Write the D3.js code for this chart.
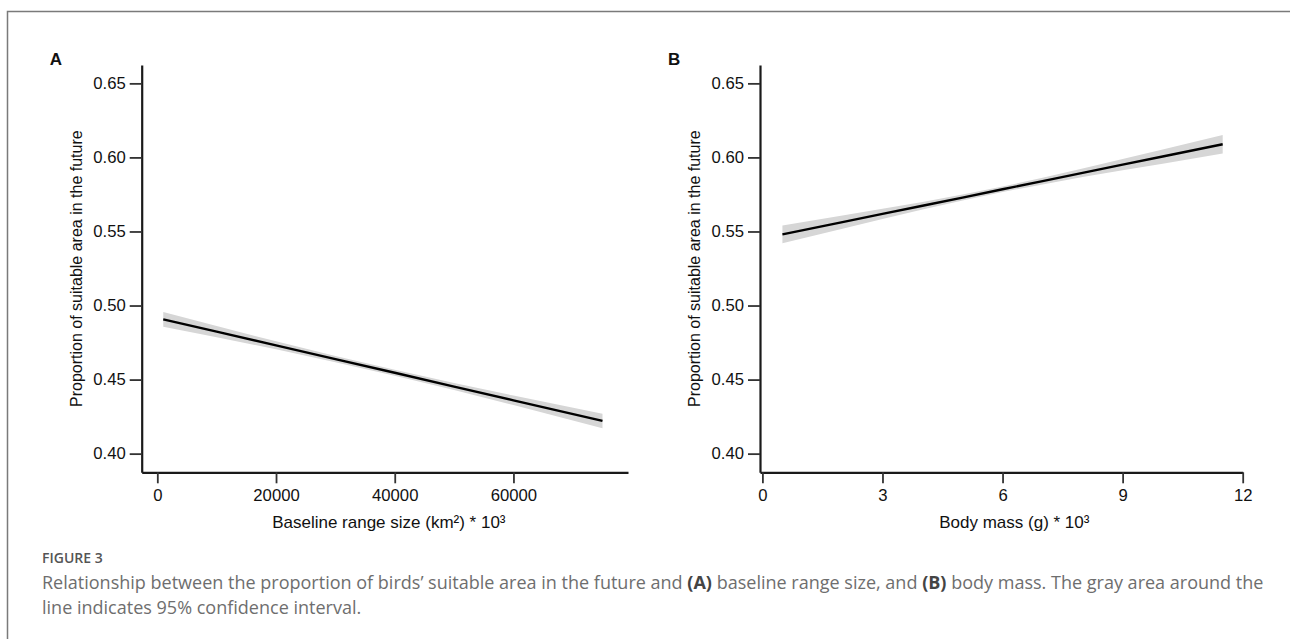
<!DOCTYPE html>
<html>
<head>
<meta charset="utf-8">
<script src="https://cdnjs.cloudflare.com/ajax/libs/d3/7.8.5/d3.min.js"></script>
<style>
    body { margin: 0; background: #fff; }
    svg { display: block; }
    .tick text { font-family: "Liberation Sans", Arial, sans-serif; font-size: 16.7px; fill: #111; }
    .axis-title { font-family: "Liberation Sans", Arial, sans-serif; font-size: 16px; fill: #111; }
    .panel-label { font-family: "Liberation Sans", Arial, sans-serif; font-size: 17px; font-weight: bold; fill: #111; }
    .caption { font-family: "Open Sans", sans-serif; fill: #6e6e6e; }
</style>
</head>
<body>
<div id="chart"></div>
<script>
// panel A: baseline range size (km2 * 10^3)
var rangeX = [1000, 10000, 20000, 30000, 40000, 50000, 60000, 75000];
var rangeFit = [0.4907, 0.4824, 0.4731, 0.4638, 0.4546, 0.4453, 0.4360, 0.4221];
var rangeLow = [0.4857, 0.4786, 0.4704, 0.4617, 0.4526, 0.4429, 0.4328, 0.4172];
var rangeHigh = [0.4957, 0.4862, 0.4758, 0.4659, 0.4566, 0.4477, 0.4392, 0.4270];
var rangeTicks = [0, 20000, 40000, 60000];

// panel B: body mass (g * 10^3)
var massX = [0.5, 2, 3, 4, 5, 6, 7, 8, 9, 10, 11.5];
var massFit = [0.5480, 0.5563, 0.5619, 0.5674, 0.5729, 0.5785, 0.5840, 0.5896, 0.5951, 0.6006, 0.6089];
var massLow = [0.5420, 0.5518, 0.5585, 0.5649, 0.5709, 0.5766, 0.5818, 0.5867, 0.5913, 0.5958, 0.6027];
var massHigh = [0.5540, 0.5608, 0.5653, 0.5699, 0.5749, 0.5804, 0.5862, 0.5925, 0.5989, 0.6054, 0.6151];
var massTicks = [0, 3, 6, 9, 12];

var yTicks = [0.40, 0.45, 0.50, 0.55, 0.60, 0.65];
var yTitle = "Proportion of suitable area in the future";

var width = 1290, height = 639;

var svg = d3.select("#chart")
    .append("svg")
    .attr("width", width)
    .attr("height", height);

// frame of the figure box
svg.append("path")
    .attr("d", "M7.5,639 L7.5,11.5 L1290,11.5")
    .attr("fill", "none")
    .attr("stroke", "#7a7a7a")
    .attr("stroke-width", 1.5);

var y = d3.scaleLinear()
    .domain([0.3874, 0.6624])
    .range([472.3, 65]);

function drawPanel(cfg) {
    var x = d3.scaleLinear()
        .domain(cfg.domain)
        .range(cfg.range);

    var g = svg.append("g");
    var pts = cfg.xs.map(function (d, i) {
        return { x: d, fit: cfg.fit[i], lo: cfg.lo[i], hi: cfg.hi[i] };
    });

    // confidence band
    g.append("path")
        .datum(pts)
        .attr("fill", "#d6d6d6")
        .attr("d", d3.area()
            .x(function (d) { return x(d.x); })
            .y0(function (d) { return y(d.lo); })
            .y1(function (d) { return y(d.hi); }));

    // fitted line
    g.append("path")
        .datum(pts)
        .attr("fill", "none")
        .attr("stroke", "#000")
        .attr("stroke-width", 2.4)
        .attr("d", d3.line()
            .x(function (d) { return x(d.x); })
            .y(function (d) { return y(d.fit); }));

    g.append("g")
        .attr("transform", "translate(0," + y.range()[0] + ")")
        .call(d3.axisBottom(x).tickValues(cfg.ticks).tickSize(11).tickSizeOuter(0).tickPadding(6)
            .tickFormat(d3.format("d")));
    g.append("g")
        .attr("transform", "translate(" + cfg.range[0] + ",0)")
        .call(d3.axisLeft(y).tickValues(yTicks).tickSize(12).tickSizeOuter(0).tickPadding(4)
            .tickFormat(d3.format(".2f")));

    g.selectAll(".domain").attr("stroke", "#1a1a1a").attr("stroke-width", 2.2);
    g.selectAll(".tick line").attr("stroke", "#333").attr("stroke-width", 1.8);

    g.append("text")
        .attr("class", "axis-title")
        .attr("x", (cfg.range[0] + cfg.range[1]) / 2 + cfg.titleShift)
        .attr("y", 528)
        .attr("text-anchor", "middle")
        .style("font-size", "17px")
        .text(cfg.xTitle);

    g.append("text")
        .attr("class", "axis-title")
        .attr("transform", "translate(" + (cfg.range[0] - 60) + "," + ((y.range()[0] + y.range()[1]) / 2) + ") rotate(-90)")
        .attr("text-anchor", "middle")
        .text(yTitle);

    g.append("text")
        .attr("class", "panel-label")
        .attr("x", cfg.range[0] - 92)
        .attr("y", 65)
        .text(cfg.label);
}

drawPanel({
    label: "A",
    xs: rangeX, fit: rangeFit, lo: rangeLow, hi: rangeHigh,
    ticks: rangeTicks,
    domain: [-2630, 79300],
    range: [141.7, 628],
    titleShift: 4,
    xTitle: "Baseline range size (km\u00b2) * 10\u00b3"
});

drawPanel({
    label: "B",
    xs: massX, fit: massFit, lo: massLow, hi: massHigh,
    ticks: massTicks,
    domain: [-0.06, 12],
    range: [760, 1242.7],
    titleShift: 13,
    xTitle: "Body mass (g) * 10\u00b3"
});

// caption
svg.append("text")
    .attr("class", "caption")
    .attr("x", 42)
    .attr("y", 563)
    .style("font-size", "14px")
    .style("font-weight", 600)
    .style("fill", "#555")
    .text("FIGURE 3");

var cap1 = svg.append("text")
    .attr("class", "caption")
    .attr("x", 42)
    .attr("y", 589)
    .style("font-size", "17px");
cap1.append("tspan").text("Relationship between the proportion of birds\u2019 suitable area in the future and ");
cap1.append("tspan").style("font-weight", "bold").style("fill", "#444").text("(A)");
cap1.append("tspan").text(" baseline range size, and ");
cap1.append("tspan").style("font-weight", "bold").style("fill", "#444").text("(B)");
cap1.append("tspan").text(" body mass. The gray area around the");

var cap2 = svg.append("text")
    .attr("class", "caption")
    .attr("x", 42)
    .attr("y", 614)
    .style("font-size", "17px")
    .text("line indicates 95% confidence interval.");

// fit caption size to the width of the first line
var w = cap1.node().getComputedTextLength();
var fs = 17 * 1222 / w;
cap1.style("font-size", fs + "px");
cap2.style("font-size", fs + "px");
</script>
</body>
</html>
